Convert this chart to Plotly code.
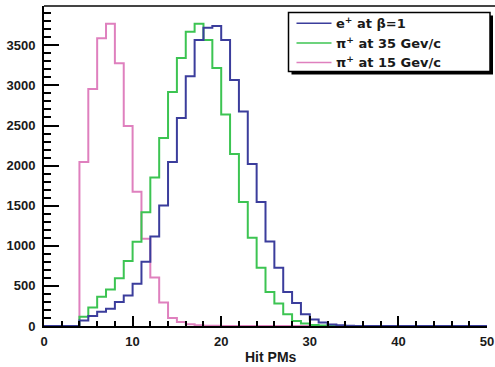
import plotly.graph_objects as go

# ---- data (bin edges 0..50, width 1) ----
bin_edges = list(range(0, 51))
e_beta1 = [0, 0, 0, 0, 70, 125, 178, 216, 298, 381,
           527, 800, 1116, 1501, 2045, 2592, 3114, 3566, 3719, 3740,
           3566, 3068, 2674, 2020, 1545, 1053, 726, 423, 286, 146,
           80, 45, 20, 8, 3, 0, 0, 0, 0, 0,
           0, 0, 0, 0, 0, 0, 0, 0, 0, 0]
pi_35 = [0, 0, 0, 0, 115, 230, 365, 455, 595, 810,
         1050, 1418, 1853, 2343, 2919, 3342, 3669, 3769, 3566, 3218,
         2637, 2144, 1545, 1100, 726, 423, 279, 146, 62, 30,
         12, 5, 2, 0, 0, 0, 0, 0, 0, 0,
         0, 0, 0, 0, 0, 0, 0, 0, 0, 0]
pi_15 = [0, 0, 0, 0, 2045, 2956, 3587, 3769, 3276, 2493,
         1675, 1087, 605, 292, 100, 50, 22, 10, 4, 2,
         1, 0, 0, 0, 0, 0, 0, 0, 0, 0,
         0, 0, 0, 0, 0, 0, 0, 0, 0, 0,
         0, 0, 0, 0, 0, 0, 0, 0, 0, 0]
series_names = ["e<sup>+</sup> at β=1", "π<sup>+</sup> at 35 Gev/c", "π<sup>+</sup> at 15 Gev/c"]
series_colors = ["#3b3d9c", "#3cc452", "#df80be"]
x_ticks = [0, 10, 20, 30, 40, 50]
y_ticks = [0, 500, 1000, 1500, 2000, 2500, 3000, 3500]
x_title = "Hit PMs"

W, H = 495, 367
L, R, T, B = 44, 8, 6, 41
pw, ph = W - L - R, H - T - B


def px(x):
    return (x - L) / pw


def py(y):
    return 1 - (y - T) / ph


fig = go.Figure()
all_series = [e_beta1, pi_35, pi_15]
# draw pink first, blue last (on top)
for idx in [2, 1, 0]:
    vals = all_series[idx]
    fig.add_trace(go.Scatter(
        x=bin_edges, y=vals + [vals[-1]],
        mode="lines", line=dict(shape="hv", color=series_colors[idx], width=2),
        name=series_names[idx], showlegend=False, hoverinfo="skip", cliponaxis=False))

tickfont = dict(family="Liberation Sans", size=13, color="#1a1a1a", weight="bold")
fig.update_xaxes(range=[0, 50], tickvals=x_ticks, ticktext=[str(v) for v in x_ticks],
                 ticks="inside", ticklen=10, tickwidth=1.5, tickcolor="black",
                 minor=dict(dtick=2, ticks="inside", ticklen=5, tickwidth=1.5, tickcolor="black"),
                 showline=True, linecolor="black", linewidth=2, showgrid=False,
                 zeroline=False, tickfont=tickfont, ticklabelstandoff=2, automargin=False)
fig.update_yaxes(range=[0, 3990], tickvals=y_ticks, ticktext=[str(v) for v in y_ticks],
                 ticks="inside", ticklen=15, tickwidth=1.5, tickcolor="black",
                 minor=dict(dtick=100, ticks="inside", ticklen=7, tickwidth=1.5, tickcolor="black"),
                 showline=True, linecolor="black", linewidth=2, showgrid=False,
                 zeroline=False, tickfont=tickfont, ticklabelstandoff=4, automargin=False)

shapes = []
# top frame line
shapes.append(dict(type="line", xref="paper", yref="paper", x0=0, x1=px(W), y0=1, y1=1,
                   line=dict(color="#444", width=2)))
# legend shadow and box
lx0, lx1, ly0, ly1 = 288.5, 490, 12.5, 71.5
shapes.append(dict(type="rect", xref="paper", yref="paper", x0=px(lx0 + 3), x1=px(lx1 + 3),
                   y0=py(ly1 + 3), y1=py(ly0 + 3), fillcolor="black", line=dict(width=0)))
shapes.append(dict(type="rect", xref="paper", yref="paper", x0=px(lx0), x1=px(lx1),
                   y0=py(ly1), y1=py(ly0), fillcolor="white", line=dict(color="black", width=1.5)))
annotations = []
rows = [23.3, 43.0, 62.5]
for i in range(3):
    shapes.append(dict(type="line", xref="paper", yref="paper", x0=px(296.5), x1=px(331.5),
                       y0=py(rows[i]), y1=py(rows[i]), line=dict(color=series_colors[i], width=1.5)))
    annotations.append(dict(xref="paper", yref="paper", x=px(334), y=py(rows[i]),
                            xanchor="left", yanchor="middle", showarrow=False,
                            text=series_names[i],
                            font=dict(family="DejaVu Sans", size=13, color="#1a1a1a",
                                      weight="bold")))
annotations.append(dict(xref="paper", yref="paper", x=px(271), y=py(356.5), xanchor="center",
                        yanchor="middle", showarrow=False, text=x_title,
                        font=dict(family="Liberation Sans", size=14, color="#1a1a1a",
                                  weight="bold")))

fig.update_layout(width=W, height=H, margin=dict(l=L, r=R, t=T, b=B),
                  paper_bgcolor="white", plot_bgcolor="white",
                  shapes=shapes, annotations=annotations, showlegend=False)
fig.write_html("out.html", config={"displayModeBar": False},
               post_script="document.body.style.margin='0';document.body.style.overflow='hidden';")
